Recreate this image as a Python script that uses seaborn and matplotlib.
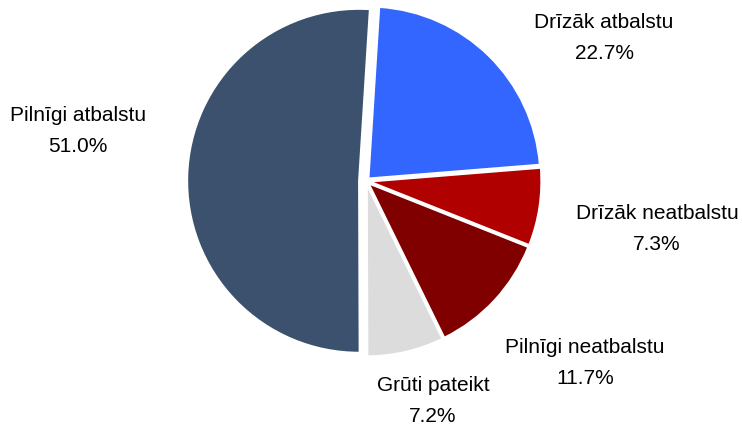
import matplotlib.pyplot as plt
import seaborn as sns

# data (clockwise from top)
labels = ["Drīzāk atbalstu", "Drīzāk neatbalstu", "Pilnīgi neatbalstu",
          "Grūti pateikt", "Pilnīgi atbalstu"]
shares = [22.7, 7.3, 11.7, 7.2, 51.0]
colors = ["#3366FF", "#B00000", "#800000", "#DCDCDC", "#3B516D"]

# label centres in pixels (x, y from top)
label_px = [(604, 38), (657, 229), (585, 363), (433, 401), (78, 131)]


def main():
    sns.set_theme(style="white")
    plt.rcParams["font.family"] = ["Liberation Sans", "DejaVu Sans"]

    W, H = 742, 428
    cx, cy, r = 366, 181, 172
    fig = plt.figure(figsize=(W / 100, H / 100), dpi=100)
    ax = fig.add_axes([(cx - r) / W, (H - cy - r) / H, 2 * r / W, 2 * r / H])

    explode = [0.02, 0.02, 0.02, 0.02, 0.04]
    ax.pie(shares, colors=colors, startangle=86.4, counterclock=False,
           explode=explode, radius=1.0,
           wedgeprops=dict(edgecolor="white", linewidth=1.5))
    ax.set_xlim(-1, 1)
    ax.set_ylim(-1, 1)
    ax.set_aspect("equal")
    ax.axis("off")

    for lab, val, (px, py) in zip(labels, shares, label_px):
        fig.text(px / W, 1 - py / H, f"{lab}\n{val:.1f}%", ha="center",
                 va="center", fontsize=15, linespacing=1.75, color="black")

    fig.savefig("out.png", dpi=100)


if __name__ == "__main__":
    main()
